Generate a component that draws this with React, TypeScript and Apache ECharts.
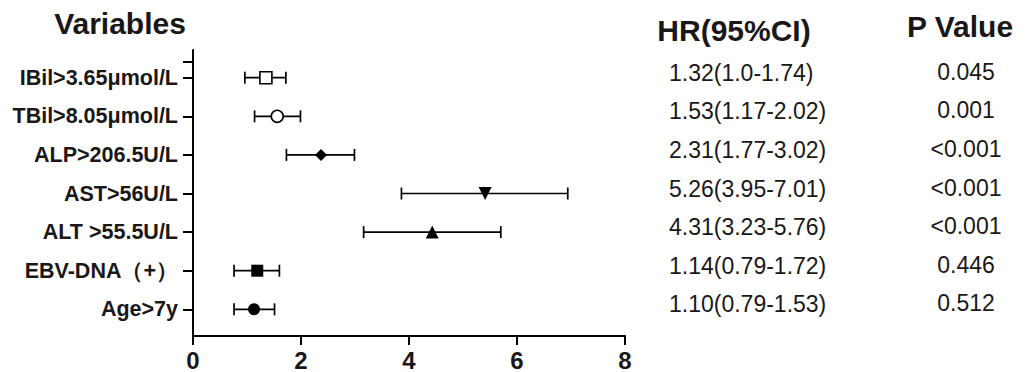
import React, { useEffect, useRef } from "react";
import * as echarts from "echarts";

const variables = [
  "IBil>3.65μmol/L",
  "TBil>8.05μmol/L",
  "ALP>206.5U/L",
  "AST>56U/L",
  "ALT >55.5U/L",
  "EBV-DNA（+）",
  "Age>7y",
];
const hrPlot = [1.35, 1.56, 2.37, 5.41, 4.43, 1.19, 1.13];
const lowPlot = [0.96, 1.14, 1.73, 3.86, 3.16, 0.76, 0.76];
const highPlot = [1.72, 1.99, 2.99, 6.94, 5.7, 1.6, 1.51];
const hrText = [
  "1.32(1.0-1.74)",
  "1.53(1.17-2.02)",
  "2.31(1.77-3.02)",
  "5.26(3.95-7.01)",
  "4.31(3.23-5.76)",
  "1.14(0.79-1.72)",
  "1.10(0.79-1.53)",
];
const pText = ["0.045", "0.001", "<0.001", "<0.001", "<0.001", "0.446", "0.512"];
const symbols = ["rect", "circle", "diamond", "triangle", "triangle", "rect", "circle"];
const hollow = [true, true, false, false, false, false, false];
const xTicks = [0, 2, 4, 6, 8];
const yTickValues = [1, 2, 3, 4, 5, 6, 7, 7.41];

const FONT = "'Liberation Sans', Arial, Helvetica, sans-serif";
const INK = "#1a1718";

export default function App() {
  const ref = useRef<HTMLDivElement>(null);
  useEffect(() => {
    if (!ref.current) return;
    const chart = echarts.init(ref.current, undefined, { renderer: "svg" });
    const n = variables.length;
    const rowVal = (i: number) => n - i;
    const labelMap: Record<number, string> = {};
    variables.forEach((v, i) => (labelMap[rowVal(i)] = v));

    const symbolSizes: any[] = [12, 12, [12, 12], 13, 13, 12, 12];
    const rotates = [0, 0, 0, 180, 0, 0, 0];

    chart.setOption({
      animation: false,
      grid: { left: 193, right: 406, top: 50, bottom: 33, containLabel: false },
      xAxis: {
        type: "value",
        min: 0,
        max: 8,
        interval: 2,
        axisLine: { show: true, lineStyle: { color: "#000", width: 2 } },
        axisTick: { show: true, length: 9, lineStyle: { color: "#000", width: 2 } },
        axisLabel: {
          color: INK,
          fontFamily: FONT,
          fontWeight: "bold",
          fontSize: 24,
          margin: 12,
          customValues: xTicks,
        },
        splitLine: { show: false },
      },
      yAxis: {
        type: "value",
        min: 0.308,
        max: 7.718,
        axisLine: { show: true, lineStyle: { color: "#000", width: 2 } },
        axisTick: {
          show: true,
          length: 10,
          lineStyle: { color: "#000", width: 2 },
          customValues: yTickValues,
        },
        axisLabel: {
          color: INK,
          fontFamily: FONT,
          fontWeight: "bold",
          fontSize: 21.5,
          margin: 15,
          customValues: variables.map((_, i) => rowVal(i)),
          formatter: (v: number) => labelMap[Math.round(v)] || "",
        },
        splitLine: { show: false },
      },
      series: [
        {
          type: "custom",
          data: variables.map((_, i) => [lowPlot[i], highPlot[i], rowVal(i)]),
          renderItem: (params: any, api: any) => {
            const y = api.value(2);
            const p1 = api.coord([api.value(0), y]);
            const p2 = api.coord([api.value(1), y]);
            const h = 6;
            const style = { stroke: "#000", lineWidth: 1.7 };
            return {
              type: "group",
              children: [
                { type: "line", shape: { x1: p1[0], y1: p1[1], x2: p2[0], y2: p2[1] }, style },
                { type: "line", shape: { x1: p1[0], y1: p1[1] - h, x2: p1[0], y2: p1[1] + h }, style },
                { type: "line", shape: { x1: p2[0], y1: p2[1] - h, x2: p2[0], y2: p2[1] + h }, style },
              ],
            };
          },
          z: 2,
        },
        {
          type: "scatter",
          z: 3,
          data: variables.map((_, i) => ({
            value: [hrPlot[i], rowVal(i)],
            symbol: symbols[i],
            symbolSize: symbolSizes[i],
            symbolRotate: rotates[i],
            itemStyle: hollow[i]
              ? { color: "#fff", borderColor: "#000", borderWidth: 1.6, opacity: 1 }
              : { color: "#000", borderWidth: 0, opacity: 1 },
          })),
        },
      ],
    });

    const graphics: any[] = [
      {
        type: "text",
        x: 120,
        y: 23,
        style: {
          text: "Variables",
          font: `bold 30px ${FONT}`,
          fill: INK,
          textAlign: "center",
          textVerticalAlign: "middle",
        },
      },
      {
        type: "text",
        x: 734,
        y: 30,
        style: {
          text: "HR(95%CI)",
          font: `bold 30px ${FONT}`,
          fill: INK,
          textAlign: "center",
          textVerticalAlign: "middle",
        },
      },
      {
        type: "text",
        x: 960,
        y: 26,
        style: {
          text: "P Value",
          font: `bold 30px ${FONT}`,
          fill: INK,
          textAlign: "center",
          textVerticalAlign: "middle",
        },
      },
    ];
    variables.forEach((_, i) => {
      const py = chart.convertToPixel({ gridIndex: 0 }, [0, rowVal(i)])[1];
      graphics.push({
        type: "text",
        x: 669,
        y: py - 5,
        style: {
          text: hrText[i],
          font: `23px ${FONT}`,
          fill: INK,
          textAlign: "left",
          textVerticalAlign: "middle",
        },
      });
      graphics.push({
        type: "text",
        x: 966,
        y: py - 6,
        style: {
          text: pText[i],
          font: `23px ${FONT}`,
          fill: INK,
          textAlign: "center",
          textVerticalAlign: "middle",
        },
      });
    });
    chart.setOption({ graphic: graphics });

    return () => chart.dispose();
  }, []);
  return (
    <div
      ref={ref}
      style={{ position: "absolute", left: 0, top: 0, width: 1031, height: 372, background: "#fff" }}
    />
  );
}
